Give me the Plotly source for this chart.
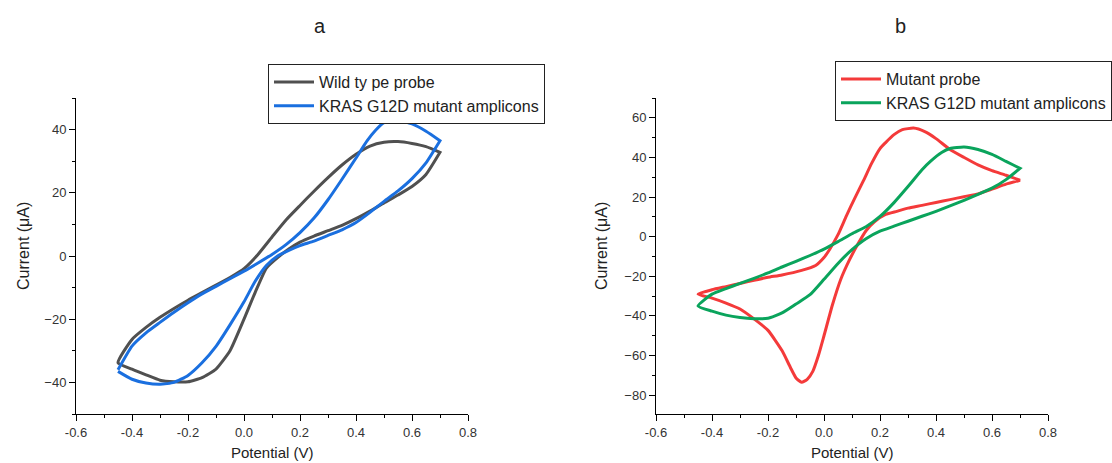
import plotly.graph_objects as go

# ---------------- data ----------------
# Panel a: wild type probe (grey)
wt_fwd_v = [-0.45, -0.40, -0.35, -0.30, -0.25, -0.20, -0.15, -0.10, -0.05, 0.00, 0.04, 0.08,
            0.12, 0.16, 0.20, 0.25, 0.30, 0.35, 0.40, 0.45, 0.50, 0.55, 0.60, 0.65, 0.70]
wt_fwd_i = [-33.8, -35.8, -37.6, -39.3, -39.8, -39.8, -38.5, -35.8, -30.0, -20.0, -11.5, -3.8,
            -0.5, 2.2, 4.4, 6.3, 8.0, 9.7, 11.8, 14.2, 16.8, 19.3, 22.0, 25.8, 32.8]
wt_rev_v = [0.70, 0.65, 0.60, 0.55, 0.50, 0.45, 0.40, 0.35, 0.30, 0.25, 0.20, 0.15, 0.10, 0.05,
            0.00, -0.05, -0.10, -0.15, -0.20, -0.25, -0.30, -0.35, -0.40, -0.45]
wt_rev_i = [32.8, 34.6, 35.6, 36.2, 36.0, 34.8, 32.2, 28.8, 24.8, 20.5, 16.0, 11.4, 6.0, 0.5,
            -4.0, -6.8, -9.2, -11.6, -14.0, -16.6, -19.4, -22.6, -26.4, -33.8]

# Panel a: KRAS G12D mutant amplicons (blue)
ka_fwd_v = [-0.45, -0.40, -0.35, -0.30, -0.25, -0.20, -0.15, -0.10, -0.05, 0.00, 0.04, 0.08,
            0.12, 0.16, 0.20, 0.25, 0.30, 0.35, 0.40, 0.45, 0.50, 0.55, 0.60, 0.65, 0.70]
ka_fwd_i = [-36.5, -39.0, -40.2, -40.6, -40.0, -37.8, -33.8, -28.6, -21.8, -14.5, -8.0, -3.0,
            0.0, 1.8, 3.3, 4.7, 6.5, 8.3, 10.6, 13.8, 17.3, 20.6, 24.5, 29.5, 36.5]
ka_rev_v = [0.70, 0.65, 0.60, 0.55, 0.50, 0.47, 0.44, 0.40, 0.35, 0.30, 0.25, 0.20, 0.15, 0.10,
            0.05, 0.00, -0.05, -0.10, -0.15, -0.20, -0.25, -0.30, -0.35, -0.40, -0.45]
ka_rev_i = [36.5, 39.5, 41.8, 43.0, 42.2, 39.8, 36.5, 31.0, 24.3, 17.8, 12.0, 7.4, 3.6, 0.5,
            -2.2, -4.8, -7.2, -9.6, -12.0, -14.8, -17.8, -21.0, -24.3, -28.5, -36.0]

# Panel b: mutant probe (red)
mp_fwd_v = [-0.45, -0.40, -0.35, -0.30, -0.25, -0.20, -0.15, -0.12, -0.10, -0.08, -0.06, -0.04,
            -0.02, 0.00, 0.03, 0.06, 0.09, 0.12, 0.15, 0.18, 0.22, 0.26, 0.30, 0.35, 0.40, 0.45,
            0.50, 0.55, 0.60, 0.65, 0.70]
mp_fwd_i = [-29.0, -31.0, -33.5, -36.5, -41.5, -47.3, -57.5, -66.0, -71.3, -73.5, -72.0, -68.0,
            -60.0, -50.0, -34.5, -21.5, -12.0, -4.0, 3.0, 7.5, 11.2, 12.8, 14.4, 15.8, 17.3, 18.7,
            20.2, 21.6, 24.0, 26.5, 28.5]
mp_rev_v = [0.70, 0.65, 0.60, 0.55, 0.50, 0.45, 0.40, 0.36, 0.32, 0.28, 0.25, 0.22, 0.20, 0.17,
            0.14, 0.11, 0.08, 0.05, 0.02, 0.00, -0.03, -0.08, -0.15, -0.20, -0.25, -0.30, -0.35,
            -0.40, -0.45]
mp_rev_i = [28.5, 31.0, 33.3, 36.2, 40.0, 44.0, 49.5, 53.0, 54.8, 54.0, 51.5, 47.5, 44.5, 37.0,
            28.0, 19.5, 10.5, 1.0, -6.5, -10.5, -14.5, -17.0, -19.3, -20.5, -22.0, -23.6, -25.2,
            -26.8, -29.0]

# Panel b: KRAS G12D mutant amplicons (green)
kb_fwd_v = [-0.45, -0.40, -0.35, -0.30, -0.25, -0.20, -0.15, -0.10, -0.05, 0.00, 0.05, 0.10,
            0.15, 0.20, 0.25, 0.30, 0.35, 0.40, 0.45, 0.50, 0.55, 0.60, 0.65, 0.70]
kb_fwd_i = [-35.0, -37.6, -39.6, -40.8, -41.4, -41.2, -38.5, -34.0, -29.3, -21.5, -13.5, -6.5,
            -1.0, 2.8, 5.3, 7.8, 10.3, 12.8, 15.5, 18.3, 21.3, 24.5, 28.8, 34.5]
kb_rev_v = [0.70, 0.65, 0.60, 0.55, 0.50, 0.45, 0.42, 0.38, 0.35, 0.30, 0.25, 0.20, 0.15, 0.10,
            0.05, 0.00, -0.05, -0.10, -0.15, -0.20, -0.25, -0.30, -0.35, -0.40, -0.45]
kb_rev_i = [34.5, 38.0, 41.5, 44.0, 45.3, 44.5, 42.5, 38.0, 33.8, 25.3, 17.2, 10.2, 5.0, 1.5,
            -2.5, -6.3, -9.5, -12.5, -15.3, -18.3, -21.0, -23.6, -26.2, -29.0, -35.0]

names_a = ["Wild ty pe probe", "KRAS G12D mutant amplicons"]
names_b = ["Mutant probe", "KRAS G12D mutant amplicons"]
panel_titles = ["a", "b"]
x_tick_vals = [-0.6, -0.4, -0.2, 0.0, 0.2, 0.4, 0.6, 0.8]
ya_tick_vals = [-40, -20, 0, 20, 40]
yb_tick_vals = [-80, -60, -40, -20, 0, 20, 40, 60]

# ---------------- figure ----------------
W, H = 1112, 463
FONT = "Arial, Liberation Sans, sans-serif"
fig = go.Figure()

def add(vf, if_, vr, ir, name, color, xa, ya, leg):
    fig.add_trace(go.Scatter(x=vf + vr, y=if_ + ir, mode="lines", name=name,
                             line=dict(color=color, width=3, shape="spline", smoothing=0.5),
                             xaxis=xa, yaxis=ya, legend=leg))

add(wt_fwd_v, wt_fwd_i, wt_rev_v, wt_rev_i, names_a[0], "#505050", "x", "y", "legend")
add(ka_fwd_v, ka_fwd_i, ka_rev_v, ka_rev_i, names_a[1], "#1a6fdf", "x", "y", "legend")
add(mp_fwd_v, mp_fwd_i, mp_rev_v, mp_rev_i, names_b[0], "#f43a3a", "x2", "y2", "legend2")
add(kb_fwd_v, kb_fwd_i, kb_rev_v, kb_rev_i, names_b[1], "#0aa45c", "x2", "y2", "legend2")

def xax(dom, anchor):
    return dict(domain=dom, range=[-0.6, 0.8], tickvals=x_tick_vals, anchor=anchor,
                ticktext=[f"{v:.1f}" for v in x_tick_vals],
                showline=True, linecolor="#000", linewidth=1, ticks="outside", ticklen=6,
                tickcolor="#000", showgrid=False, zeroline=False,
                tickfont=dict(family=FONT, size=13, color="#333"),
                minor=dict(dtick=0.1, tick0=-0.6, ticks="outside", ticklen=3, tickcolor="#000"))

def yax(dom, rng, tv, anchor):
    return dict(domain=dom, range=rng, tickvals=tv, anchor=anchor,
                showline=True, linecolor="#000", linewidth=1, ticks="outside", ticklen=6,
                tickcolor="#000", showgrid=False, zeroline=False,
                tickfont=dict(family=FONT, size=13, color="#333"),
                minor=dict(dtick=10, tick0=0, ticks="outside", ticklen=3, tickcolor="#000"))

ydom = [49 / H, 365 / H]
legend_common = dict(bgcolor="white", bordercolor="#222", borderwidth=1,
                     font=dict(family=FONT, size=16, color="#222"),
                     xanchor="left", yanchor="top", tracegroupgap=0,
                     itemwidth=40)

def note(text, xc, yc, size, angle=0):
    return dict(text=text, x=xc / W, y=1 - yc / H, xref="paper", yref="paper",
                xanchor="center", yanchor="middle", showarrow=False, textangle=angle,
                font=dict(family=FONT, size=size, color="#222"))

annotations = []
for txt, xc in zip(panel_titles, [320, 900]):
    annotations.append(note(txt, xc, 26, 20))
for xc in [272, 852]:
    annotations.append(note("Potential (V)", xc, 452, 15))
for xc in [23, 601]:
    annotations.append(note("Current (μA)", xc, 246, 16, -90))

fig.update_layout(
    width=W, height=H, margin=dict(l=0, r=0, t=0, b=0, autoexpand=False),
    paper_bgcolor="white", plot_bgcolor="white",
    xaxis=xax([76 / W, 468 / W], "y"),
    yaxis=yax(ydom, [-50, 50], ya_tick_vals, "x"),
    xaxis2=xax([656 / W, 1048 / W], "y2"),
    yaxis2=yax(ydom, [-89.5, 70], yb_tick_vals, "x2"),
    legend=legend_common | dict(x=268 / W, y=1 - 64 / H),
    legend2=legend_common | dict(x=835 / W, y=1 - 61 / H),
    annotations=annotations,
    showlegend=True,
)

fig.write_html("out.html")
